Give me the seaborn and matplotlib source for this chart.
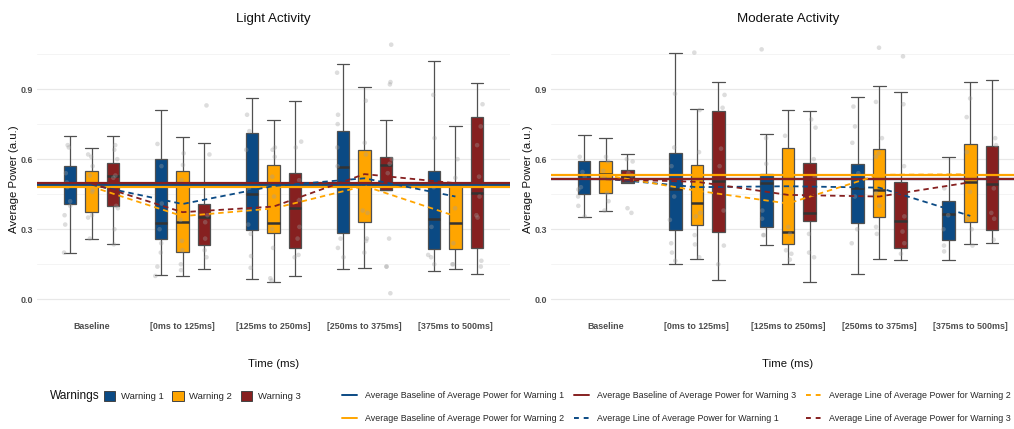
import numpy as np
import pandas as pd
import matplotlib
matplotlib.use("Agg")
import matplotlib.pyplot as plt
import seaborn as sns
from matplotlib.lines import Line2D
from matplotlib.patches import Patch

# ---------------- data ----------------
groups = ["Baseline", "[0ms to 125ms]", "[125ms to 250ms]", "[250ms to 375ms]", "[375ms to 500ms]"]
warnings = ["Warning 1", "Warning 2", "Warning 3"]
colors = ["#0B4A84", "#FFA500", "#862020"]

# box summaries per group: [lower whisker, Q1, median, Q3, upper whisker]
light_w1_box = [[0.200, 0.408, 0.489, 0.571, 0.700], [0.104, 0.260, 0.328, 0.599, 0.809],
                [0.086, 0.295, 0.449, 0.710, 0.860], [0.128, 0.285, 0.568, 0.719, 1.007],
                [0.121, 0.214, 0.342, 0.548, 1.021]]
light_w2_box = [[0.257, 0.372, 0.494, 0.548, 0.646], [0.098, 0.204, 0.331, 0.548, 0.693],
                [0.073, 0.282, 0.325, 0.576, 0.769], [0.136, 0.330, 0.492, 0.641, 0.907],
                [0.131, 0.217, 0.325, 0.496, 0.740]]
light_w3_box = [[0.235, 0.401, 0.528, 0.583, 0.699], [0.128, 0.234, 0.354, 0.408, 0.668],
                [0.101, 0.218, 0.392, 0.539, 0.849], [0.466, 0.468, 0.576, 0.609, 0.767],
                [0.107, 0.218, 0.456, 0.779, 0.927]]
mod_w1_box = [[0.354, 0.449, 0.530, 0.591, 0.703], [0.150, 0.295, 0.472, 0.625, 1.056],
              [0.231, 0.311, 0.496, 0.538, 0.706], [0.110, 0.325, 0.475, 0.579, 0.866],
              [0.168, 0.254, 0.367, 0.419, 0.611]]
mod_w2_box = [[0.378, 0.454, 0.536, 0.592, 0.689], [0.171, 0.317, 0.414, 0.575, 0.813],
              [0.150, 0.235, 0.287, 0.649, 0.810], [0.171, 0.354, 0.468, 0.642, 0.914],
              [0.237, 0.330, 0.502, 0.666, 0.930]]
mod_w3_box = [[0.500, 0.502, 0.525, 0.553, 0.622], [0.083, 0.288, 0.508, 0.806, 0.932],
              [0.076, 0.335, 0.371, 0.585, 0.806], [0.168, 0.218, 0.337, 0.504, 0.887],
              [0.240, 0.298, 0.494, 0.655, 0.939]]

# individual observations (grey points)
light_w1_pts = [[0.66, 0.65, 0.54, 0.48, 0.42, 0.40, 0.36, 0.32, 0.20, 0.50],
                [0.665, 0.57, 0.41, 0.30, 0.24, 0.20, 0.14, 0.10],
                [0.79, 0.72, 0.64, 0.47, 0.32, 0.28, 0.185, 0.135],
                [0.97, 0.79, 0.75, 0.65, 0.57, 0.26, 0.22, 0.18],
                [0.875, 0.69, 0.48, 0.31, 0.19, 0.18, 0.15]]
light_w2_pts = [[0.62, 0.61, 0.57, 0.53, 0.47, 0.46, 0.35, 0.36, 0.26],
                [0.625, 0.575, 0.51, 0.34, 0.25, 0.21, 0.15, 0.125],
                [0.65, 0.64, 0.61, 0.525, 0.44, 0.30, 0.22, 0.09, 0.08],
                [0.85, 0.67, 0.62, 0.38, 0.37, 0.26, 0.25, 0.20],
                [0.60, 0.52, 0.39, 0.24, 0.15, 0.15]]
light_w3_pts = [[0.66, 0.64, 0.60, 0.53, 0.52, 0.40, 0.39, 0.30, 0.235],
                [0.83, 0.62, 0.36, 0.33, 0.26, 0.18, 0.21],
                [0.675, 0.65, 0.51, 0.425, 0.31, 0.26, 0.19, 0.18],
                [1.09, 0.93, 0.92, 0.60, 0.58, 0.54, 0.26, 0.14, 0.14, 0.026],
                [0.835, 0.74, 0.66, 0.525, 0.36, 0.35, 0.165, 0.14, 0.44]]
mod_w1_pts = [[0.61, 0.545, 0.525, 0.48, 0.47, 0.44, 0.40, 0.355],
              [0.88, 0.65, 0.57, 0.44, 0.34, 0.24, 0.20, 0.165],
              [1.07, 0.69, 0.58, 0.38, 0.345, 0.275, 0.275],
              [0.825, 0.74, 0.67, 0.54, 0.44, 0.30, 0.24],
              [0.475, 0.36, 0.30, 0.23, 0.205]]
mod_w2_pts = [[0.61, 0.59, 0.55, 0.525, 0.455, 0.42, 0.38],
              [1.056, 0.81, 0.63, 0.37, 0.355, 0.275, 0.235, 0.18],
              [0.70, 0.475, 0.31, 0.28, 0.21, 0.195, 0.17],
              [1.077, 0.845, 0.69, 0.625, 0.61, 0.455, 0.40, 0.31, 0.28],
              [0.86, 0.78, 0.63, 0.46, 0.345, 0.30, 0.23]]
mod_w3_pts = [[0.60, 0.59, 0.54, 0.53, 0.39, 0.37],
              [0.875, 0.82, 0.645, 0.57, 0.38, 0.23, 0.15],
              [0.77, 0.735, 0.60, 0.525, 0.28, 0.20, 0.18],
              [1.04, 0.835, 0.57, 0.355, 0.29, 0.24, 0.195],
              [0.69, 0.66, 0.475, 0.37, 0.345, 0.255]]

# average lines (group means) and baseline averages
light_mean = {"Warning 1": [0.490, 0.408, 0.485, 0.518, 0.440],
              "Warning 2": [0.482, 0.356, 0.389, 0.485, 0.356],
              "Warning 3": [0.496, 0.373, 0.397, 0.536, 0.497]}
mod_mean = {"Warning 1": [0.516, 0.480, 0.484, 0.478, 0.357],
            "Warning 2": [0.531, 0.465, 0.410, 0.533, 0.535],
            "Warning 3": [0.514, 0.503, 0.447, 0.440, 0.501]}
light_baseline = [0.491, 0.482, 0.496]
mod_baseline = [0.516, 0.531, 0.514]

# ---------------- style ----------------
sns.set_theme(style="white")
plt.rcParams["font.family"] = ["Liberation Sans", "DejaVu Sans"]
np.random.seed(3)

W, H = 1014, 429
fig = plt.figure(figsize=(W / 100, H / 100), dpi=100)
axL = fig.add_axes([37 / W, 1 - 318 / H, 473 / W, 278 / H])
axR = fig.add_axes([551 / W, 1 - 318 / H, 474 / W, 278 / H])


def long_df(per_warning):
    rows = []
    for w, per_group in zip(warnings, per_warning):
        for g, vals in zip(groups, per_group):
            for v in vals:
                rows.append((g, w, v))
    return pd.DataFrame(rows, columns=["Time", "Warning", "Power"])


def panel(ax, boxes, pts, means, baselines, title):
    bdf = long_df(boxes)
    pdf = long_df(pts)
    sns.boxplot(data=bdf, x="Time", y="Power", hue="Warning", order=groups, hue_order=warnings,
                palette=colors, saturation=1, whis=(0, 100), width=0.71, gap=0.42,
                linecolor="#505050", linewidth=0.9, showfliers=False, capwidths=0.14,
                medianprops=dict(color="#333333", linewidth=1.8), legend=False, ax=ax)
    sns.stripplot(data=pdf, x="Time", y="Power", hue="Warning", order=groups, hue_order=warnings,
                  palette=["#9E9E9E"] * 3, dodge=True, jitter=0.12, size=3.3, alpha=0.35,
                  linewidth=0, legend=False, ax=ax)
    for val, c in zip(baselines, colors):
        ax.axhline(val, color=c, lw=1.6, zorder=5)
    mdf = pd.DataFrame([(g, w, v) for w in warnings for g, v in zip(groups, means[w])],
                       columns=["Time", "Warning", "Mean"])
    sns.lineplot(data=mdf, x="Time", y="Mean", hue="Warning", hue_order=warnings, palette=colors,
                 linestyle=(0, (3, 2.2)), linewidth=1.3, sort=False, legend=False, ax=ax, zorder=6)
    ax.set_xlim(-0.6, 4.6)
    ax.set_ylim(-0.08, 1.11)
    ax.set_yticks([0.0, 0.3, 0.6, 0.9])
    ax.set_yticklabels(["0.0", "0.3", "0.6", "0.9"])
    ax.set_yticks([0.15, 0.45, 0.75, 1.05], minor=True)
    ax.grid(axis="y", which="major", color="#E8E8E8", lw=0.9)
    ax.grid(axis="y", which="minor", color="#F2F2F2", lw=0.6)
    ax.grid(axis="x", visible=False)
    ax.set_axisbelow(True)
    for s in ax.spines.values():
        s.set_visible(False)
    ax.tick_params(axis="both", which="both", length=0, labelsize=6.4, labelcolor="#4D4D4D", pad=3)
    for lab in ax.get_xticklabels() + ax.get_yticklabels():
        lab.set_fontweight("bold")
    ax.set_xlabel("Time (ms)", fontsize=8.2, labelpad=20, color="#111111")
    ax.set_ylabel("Average Power (a.u.)", fontsize=8.2, labelpad=1, color="#111111")
    ax.set_title(title, fontsize=9.6, pad=13, color="#111111")


panel(axL, [light_w1_box, light_w2_box, light_w3_box], [light_w1_pts, light_w2_pts, light_w3_pts],
      light_mean, light_baseline, "Light Activity")
panel(axR, [mod_w1_box, mod_w2_box, mod_w3_box], [mod_w1_pts, mod_w2_pts, mod_w3_pts],
      mod_mean, mod_baseline, "Moderate Activity")

# ---------------- legends ----------------
fig.text(50 / W, 1 - 396 / H, "Warnings", fontsize=8.6, va="center", ha="left", color="#111111")
box_handles = [Patch(facecolor=c, edgecolor="#444444", linewidth=0.7, label=w) for c, w in zip(colors, warnings)]
fig.legend(handles=box_handles, ncol=3, loc="center left", bbox_to_anchor=(104 / W, 1 - 396 / H),
           frameon=False, fontsize=6.8, handlelength=1.2, handleheight=1.2, columnspacing=0.9,
           handletextpad=0.6, borderaxespad=0, borderpad=0)

line_labels = ["Average Baseline of Average Power for Warning 1",
               "Average Baseline of Average Power for Warning 2",
               "Average Baseline of Average Power for Warning 3",
               "Average Line of Average Power for Warning 1",
               "Average Line of Average Power for Warning 2",
               "Average Line of Average Power for Warning 3"]
line_handles = [Line2D([], [], color=c, lw=1.4) for c in colors] + \
               [Line2D([], [], color=c, lw=1.4, linestyle=(0, (2.5, 2.5))) for c in colors]
for h, l in zip(line_handles, line_labels):
    h.set_label(l)
fig.legend(handles=line_handles, ncol=3, loc="center left", bbox_to_anchor=(342 / W, 1 - 407 / H),
           frameon=False, fontsize=6.4, handlelength=1.7, columnspacing=1.1, handletextpad=0.9,
           labelspacing=1.5, borderaxespad=0, borderpad=0)

fig.savefig("out.png", dpi=100, facecolor="white")
